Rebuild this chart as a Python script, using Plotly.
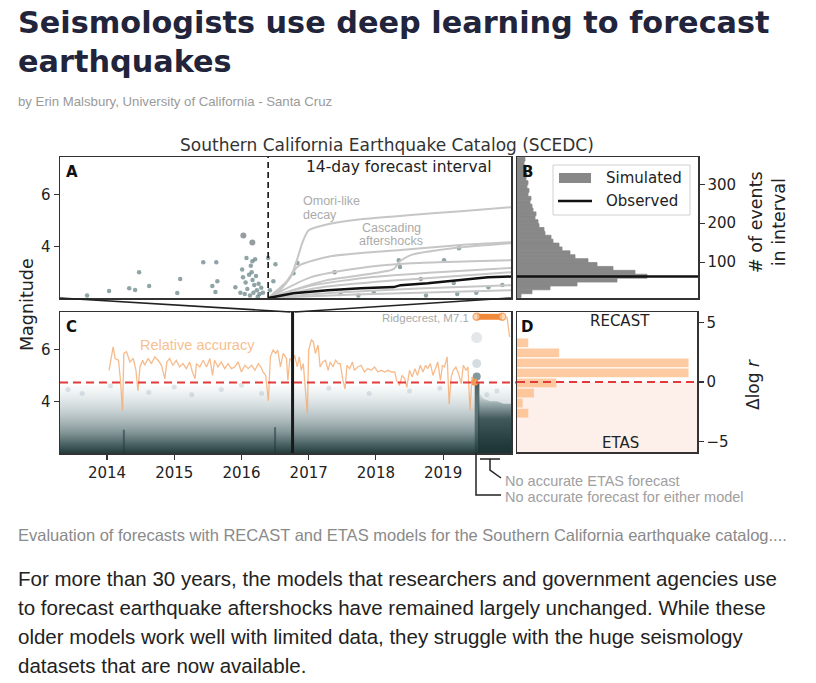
import plotly.graph_objects as go

W, H = 816, 683

# ---------------- DATA ----------------
# Panel A: catalogue events around the forecast start (days from start, magnitude)
A_DAYS = [-10.44, -9.17, -8.01, -7.67, -7.44, -6.86, -5.24, -5.07, -3.74, -3.22,
          -3.04, -2.99, -2.93, -1.89, -1.60, -1.50, -1.45, -1.35, -1.30, -1.25,
          -1.20, -1.10, -1.05, -1.00, -0.95, -0.91, -0.90, -0.85, -0.80, -0.75,
          -0.70, -0.65, -0.60, -0.55, -0.50, -0.40, -0.30, 0.00, 0.10, 0.30,
          0.42, 1.46, 1.69, 3.83, 4.18, 5.20, 6.09, 7.53, 7.60, 8.80,
          9.10, 10.14, 10.70, 10.90, 11.00, 12.00, 12.70, 13.50]
A_MAGS = [2.10, 2.27, 2.38, 2.31, 3.00, 2.46, 2.19, 2.73, 3.38, 2.46,
          2.23, 3.38, 2.65, 2.42, 2.20, 3.10, 2.80, 2.15, 2.60, 3.55,
          2.35, 2.90, 2.10, 3.25, 3.00, 3.42, 2.70, 2.20, 2.50, 3.50,
          2.85, 2.30, 2.05, 2.55, 2.15, 2.40, 2.20, 3.55, 2.30, 2.65,
          3.30, 2.96, 3.35, 3.00, 2.15, 2.10, 2.23, 3.46, 3.20, 2.73,
          2.10, 3.46, 2.58, 2.15, 3.92, 2.20, 2.42, 2.50]
A_BIG_DAYS = [-1.43, -0.91]
A_BIG_MAGS = [4.42, 4.15]

# Panel A: simulated cumulative event counts in the 14-day interval
SIM_DAYS = [
    [0, 0.6, 1.29, 1.69, 1.98, 2.33, 3.2, 5.33, 8.22, 11.11, 14.0],
    [0, 1.04, 1.73, 3.6, 7.64, 11.1, 14.0],
    [0, 3.43, 7.24, 7.53, 8.22, 11.1, 14.0],
    [0, 2.44, 5.33, 8.22, 14.0],
    [0, 2.5, 6.0, 10.0, 14.0],
    [0, 3.0, 7.0, 10.5, 14.0],
    [0, 4.0, 9.0, 14.0],
    [0, 5.0, 14.0],
]
SIM_COUNTS = [
    [8, 25, 61, 110, 151, 182, 195, 210, 221, 231, 241],
    [8, 49, 90, 115, 131, 144, 151],
    [8, 54, 82, 100, 118, 138, 149],
    [8, 61, 85, 97, 105],
    [8, 40, 62, 75, 85],
    [8, 35, 52, 63, 74],
    [8, 22, 33, 41],
    [8, 17, 28],
]
OBS_DAYS = [0, 1.46, 3.43, 5.33, 7.24, 7.64, 9.2, 11.1, 12.67, 14.0]
OBS_COUNTS = [8, 20, 28, 33, 36, 41, 46, 54, 61, 63]
OBS_TOTAL = 63

# Panel B: histogram of simulated counts (bin centre, relative frequency)
B_CENTERS = [14, 24, 34, 44, 54, 64, 74, 84, 94, 104, 114, 124, 134, 144, 154, 164, 174, 184,
             194, 204, 214, 224, 234, 244, 254, 264, 274, 284, 294, 304, 314, 324, 334, 344, 354, 364]
B_FREQ = [4, 15, 33, 60, 100, 130, 118, 96, 80, 71, 58, 53, 45, 42, 36, 34, 28, 27,
          22, 21, 18, 19, 16, 15, 13, 14, 11, 12, 10, 11, 9, 10, 8, 9, 7, 8]

# Panel C: relative accuracy (delta log r) per forecast interval
ORANGE_YEARS = [2014.03, 2014.09, 2014.12, 2014.17, 2014.20, 2014.23, 2014.25, 2014.29, 2014.34, 2014.39,
                2014.43, 2014.46, 2014.49, 2014.53, 2014.56, 2014.61, 2014.66, 2014.71, 2014.76, 2014.81,
                2014.86, 2014.89, 2014.93, 2014.98, 2015.03, 2015.08, 2015.13, 2015.18, 2015.23, 2015.27,
                2015.31, 2015.33, 2015.38, 2015.43, 2015.48, 2015.53, 2015.57, 2015.60, 2015.65, 2015.70,
                2015.75, 2015.80, 2015.85, 2015.90, 2015.95, 2016.00, 2016.05, 2016.10, 2016.15, 2016.20,
                2016.25, 2016.29, 2016.32, 2016.36, 2016.40, 2016.43, 2016.47, 2016.51, 2016.54, 2016.58,
                2016.62, 2016.67, 2016.69, 2016.72, 2016.76, 2016.79, 2016.83, 2016.86, 2016.89, 2016.92,
                2016.96, 2016.98, 2017.00, 2017.04, 2017.07, 2017.10, 2017.14, 2017.17, 2017.21, 2017.25,
                2017.29, 2017.32, 2017.36, 2017.40, 2017.44, 2017.47, 2017.51, 2017.54, 2017.57, 2017.61,
                2017.65, 2017.68, 2017.73, 2017.78, 2017.83, 2017.88, 2017.93, 2017.98, 2018.03, 2018.08,
                2018.13, 2018.18, 2018.23, 2018.28, 2018.31, 2018.35, 2018.39, 2018.43, 2018.46, 2018.50,
                2018.54, 2018.58, 2018.62, 2018.66, 2018.70, 2018.74, 2018.77, 2018.81, 2018.85, 2018.89,
                2018.92, 2018.96, 2018.99, 2019.02, 2019.06, 2019.09, 2019.12, 2019.15, 2019.19, 2019.23,
                2019.27, 2019.30, 2019.34, 2019.37, 2019.40, 2019.43, 2019.47]
ORANGE_DLOGR = [1.02, 2.99, 2.01, 1.86, 0.17, -2.37, 2.43, 2.57, 1.72, 2.01,
                1.02, -0.68, 1.30, 1.86, 1.44, 2.01, 1.58, 2.15, 1.86, 1.44,
                0.31, 1.72, 2.01, 1.44, 1.86, 1.30, 1.58, 1.16, 1.72, 0.88,
                0.31, 1.58, 1.30, 1.86, 1.30, 2.01, 0.59, 1.86, 1.30, 1.72,
                1.16, 1.58, 1.16, 1.30, 1.72, 0.88, 1.44, 1.16, 1.44, 1.02,
                1.58, 1.30, 0.88, 0.59, -1.53, 2.15, 2.71, 2.43, 2.71, 1.30,
                2.43, 2.01, 0.17, 2.01, 1.72, 2.29, 1.30, 2.15, 1.02, 1.58,
                -1.24, -2.66, 2.71, 3.56, 3.42, 2.43, 3.14, 1.30, 1.72, 1.86,
                1.02, 1.72, 1.30, 1.86, 1.58, 1.58, 0.17, -0.54, 1.44, 1.16,
                1.72, 1.02, 1.30, 1.44, 0.88, 1.16, 1.02, 1.30, 0.88, 1.02,
                0.88, 1.02, 0.88, 0.88, 0.17, -0.25, 0.59, 0.31, -0.40, 1.02,
                0.45, 1.16, 0.59, 1.44, 0.88, 1.44, 1.16, 1.58, 0.59, 1.30,
                1.72, 0.17, 1.44, 1.30, 2.15, -1.81, 0.45, 1.02, 1.30, 0.73,
                -0.11, 1.44, 1.02, 1.30, -2.37, 0.45, 0.03]
# Ridgecrest: off-scale relative accuracy
RIDGE_YEARS = [2019.50, 2019.60, 2019.70, 2019.80, 2019.88]
RIDGE_DLOGR = [5.5, 5.5, 5.5, 5.5, 5.5]
RIDGE_TAIL_YEARS = [2019.95, 2019.99]
RIDGE_TAIL_DLOGR = [5.5, 3.8]
RIDGE_DOT_YEAR = [2019.47]
RIDGE_DOT_DLOGR = [0.03]

# Panel C: catalogue cloud (upper envelope of the seismicity, magnitude)
CLOUD_YEARS = [2013.30, 2013.6, 2014.0, 2014.4, 2014.8, 2015.2, 2015.6, 2016.0, 2016.4,
               2016.8, 2017.2, 2017.6, 2018.0, 2018.4, 2018.8, 2019.2, 2019.48, 2020.01]
CLOUD_TOP = [4.7, 4.8, 4.7, 4.8, 4.6, 4.7, 4.8, 4.7, 4.6, 4.8, 4.7, 4.6, 4.7, 4.6, 4.7, 4.8, 4.7, 4.7]
AFTER_YEARS = [2019.52, 2019.60, 2019.70, 2019.80, 2019.90, 2020.01]
AFTER_TOP = [4.4, 4.1, 4.0, 4.0, 3.9, 3.9]
SPIKE_YEARS = [2014.25, 2016.50, 2019.505]
SPIKE_TOP = [2.9, 3.0, 4.7]
OUTLIER_YEARS = [2013.42, 2013.63, 2014.05, 2014.62, 2015.0, 2015.26, 2015.7, 2016.0, 2016.3,
                 2017.3, 2017.9, 2018.5, 2018.95, 2019.8, 2019.65]
OUTLIER_MAGS = [4.45, 4.3, 4.6, 4.35, 4.55, 4.25, 4.45, 4.62, 4.3, 4.5, 4.3, 4.4, 4.5, 4.4, 4.25]
RC_YEARS = [2019.50, 2019.50, 2019.50]
RC_MAGS = [6.46, 5.46, 4.96]
ZOOM_DATE = 2016.76

# Panel D: histogram of delta log r
D_CENTERS = [3.30, 2.46, 1.61, 0.76, -0.08, -0.93, -1.78, -2.63]
D_COUNTS = [4, 15, 61, 61, 14, 6, 2, 4]

YEAR_TICKS = [2014, 2015, 2016, 2017, 2018, 2019]

BODY = ["For more than 30 years, the models that researchers and government agencies use",
        "to forecast earthquake aftershocks have remained largely unchanged. While these",
        "older models work well with limited data, they struggle with the huge seismology",
        "datasets that are now available."]

# ---------------- LAYOUT HELPERS ----------------
def xd(a, b):
    return [a / W, b / W]


def yd(top, bottom):
    return [1 - bottom / H, 1 - top / H]


def PX(x):
    return x / W


def PY(y):
    return 1 - y / H


A_X, A_Y = (60, 511), (157, 298)
B_X = (517, 698)
C_X, C_Y = (60, 511), (312, 453)
D_X, D_Y = (517, 697), (312, 452)

A_XR = [-12, 14]
MAG_R = [2.0, 7.45]
CNT_R = [8, 370]
YR_R = [2013.3, 2020.01]
DL_R = [-5.9, 5.9]
B_XR = [0, 181]
D_XR = [0, 64]

TICKFONT = dict(family="DejaVu Sans", size=15, color="#222")
BOX = dict(showline=True, mirror=True, linecolor="#333", linewidth=1.5, showgrid=False,
           zeroline=False, ticks="outside", ticklen=5, tickwidth=1.2, tickcolor="#333",
           tickfont=TICKFONT, fixedrange=True)

fig = go.Figure()

# ---- Panel A
fig.add_trace(go.Scatter(x=A_DAYS, y=A_MAGS, mode="markers", xaxis="x", yaxis="y",
                         marker=dict(size=4.5, color="rgba(95,125,130,0.7)", line_width=0),
                         hoverinfo="skip"))
fig.add_trace(go.Scatter(x=A_BIG_DAYS, y=A_BIG_MAGS, mode="markers", xaxis="x", yaxis="y",
                         marker=dict(size=6, color="rgba(105,115,120,0.7)", line_width=0),
                         hoverinfo="skip"))
for d, c in zip(SIM_DAYS, SIM_COUNTS):
    fig.add_trace(go.Scatter(x=d, y=c, mode="lines", xaxis="x", yaxis="y5",
                             line=dict(color="#c6c6c6", width=2, shape="spline", smoothing=0.6),
                             hoverinfo="skip"))
fig.add_trace(go.Scatter(x=OBS_DAYS, y=OBS_COUNTS, mode="lines", xaxis="x", yaxis="y5",
                         line=dict(color="#111", width=2.5), hoverinfo="skip"))

# ---- Panel B
fig.add_trace(go.Bar(y=B_CENTERS, x=B_FREQ, orientation="h", width=10, xaxis="x2", yaxis="y2",
                     marker=dict(color="#888888", line=dict(color="#888888", width=0.8)),
                     hoverinfo="skip"))
fig.add_trace(go.Scatter(x=B_XR, y=[OBS_TOTAL, OBS_TOTAL], mode="lines", xaxis="x2", yaxis="y2",
                         line=dict(color="#111", width=2.5), hoverinfo="skip"))

# ---- Panel C: seismicity cloud
fig.add_trace(go.Scatter(x=CLOUD_YEARS, y=CLOUD_TOP, mode="lines", xaxis="x3", yaxis="y3",
                         line=dict(width=0), fill="tozeroy",
                         fillgradient=dict(type="vertical", start=2.0, stop=4.8,
                                           colorscale=[[0, "rgba(32,55,56,0.97)"],
                                                       [0.12, "rgba(48,76,78,0.88)"],
                                                       [0.3, "rgba(80,106,108,0.68)"],
                                                       [0.55, "rgba(125,148,152,0.48)"],
                                                       [0.8, "rgba(170,188,194,0.25)"],
                                                       [1, "rgba(210,220,225,0)"]]),
                         hoverinfo="skip"))
fig.add_trace(go.Scatter(x=AFTER_YEARS, y=AFTER_TOP, mode="lines", xaxis="x3", yaxis="y3",
                         line=dict(width=0), fill="tozeroy",
                         fillgradient=dict(type="vertical", start=2.0, stop=4.4,
                                           colorscale=[[0, "rgba(28,50,52,0.92)"],
                                                       [0.55, "rgba(38,64,66,0.8)"],
                                                       [0.8, "rgba(65,95,98,0.4)"],
                                                       [1, "rgba(100,125,128,0)"]]),
                         hoverinfo="skip"))
fig.add_trace(go.Bar(x=SPIKE_YEARS, y=[t - MAG_R[0] for t in SPIKE_TOP], base=MAG_R[0],
                     width=[0.03, 0.03, 0.07],
                     xaxis="x3", yaxis="y3", marker=dict(color="rgba(32,56,58,0.85)", line_width=0),
                     hoverinfo="skip"))
fig.add_trace(go.Scatter(x=OUTLIER_YEARS, y=OUTLIER_MAGS, mode="markers", xaxis="x3", yaxis="y3",
                         marker=dict(size=5, color="rgba(140,165,178,0.28)", line_width=0),
                         hoverinfo="skip"))
fig.add_trace(go.Scatter(x=RC_YEARS, y=RC_MAGS, mode="markers", xaxis="x3", yaxis="y3",
                         marker=dict(size=[11, 9, 8],
                                     color=["rgba(205,213,218,0.8)", "rgba(178,196,203,0.8)",
                                            "rgba(60,95,100,0.9)"], line_width=0),
                         hoverinfo="skip"))

# ---- Panel C: relative accuracy
fig.add_trace(go.Scatter(x=ORANGE_YEARS, y=ORANGE_DLOGR, mode="lines", xaxis="x3", yaxis="y6",
                         line=dict(color="rgba(245,170,110,0.8)", width=1.3), hoverinfo="skip"))
fig.add_trace(go.Scatter(x=RIDGE_YEARS, y=RIDGE_DLOGR, mode="lines+markers", xaxis="x3", yaxis="y6",
                         line=dict(color="#f08a3a", width=6),
                         marker=dict(size=[7, 0, 0, 0, 7], color="#f8d0aa",
                                     line=dict(color="#f08a3a", width=1.5)),
                         hoverinfo="skip"))
fig.add_trace(go.Scatter(x=RIDGE_TAIL_YEARS, y=RIDGE_TAIL_DLOGR, mode="lines", xaxis="x3", yaxis="y6",
                         line=dict(color="rgba(245,170,110,0.8)", width=1.3), hoverinfo="skip"))
fig.add_trace(go.Scatter(x=RIDGE_DOT_YEAR, y=RIDGE_DOT_DLOGR, mode="markers", xaxis="x3", yaxis="y6",
                         marker=dict(size=7, color="#f09a55"), hoverinfo="skip"))

# ---- Panel D
fig.add_trace(go.Bar(y=D_CENTERS, x=D_COUNTS, orientation="h", width=0.74, xaxis="x4", yaxis="y4",
                     marker=dict(color="rgba(252,182,125,0.72)", line_width=0), hoverinfo="skip"))

fig.update_traces(showlegend=False)

# ---------------- AXES ----------------
lay = dict(
    xaxis=dict(BOX, domain=xd(*A_X), range=A_XR, anchor="y", showticklabels=False, ticks=""),
    yaxis=dict(BOX, domain=yd(*A_Y), range=MAG_R, anchor="x", tickvals=[4, 6]),
    yaxis5=dict(range=CNT_R, overlaying="y", anchor="x", visible=False, fixedrange=True),
    xaxis2=dict(BOX, domain=xd(*B_X), range=B_XR, anchor="y2", showticklabels=False, ticks=""),
    yaxis2=dict(BOX, domain=yd(*A_Y), range=CNT_R, anchor="x2", side="right",
                tickvals=[100, 200, 300]),
    xaxis3=dict(BOX, domain=xd(*C_X), range=YR_R, anchor="y3", tickvals=YEAR_TICKS,
                ticktext=[str(t) for t in YEAR_TICKS]),
    yaxis3=dict(BOX, domain=yd(*C_Y), range=MAG_R, anchor="x3", tickvals=[4, 6]),
    yaxis6=dict(range=DL_R, overlaying="y3", anchor="x3", visible=False, fixedrange=True),
    xaxis4=dict(BOX, domain=xd(*D_X), range=D_XR, anchor="y4", showticklabels=False, ticks=""),
    yaxis4=dict(BOX, domain=yd(*D_Y), range=DL_R, anchor="x4", side="right",
                tickvals=[-5, 0, 5], ticktext=["\u22125", "0", "5"]),
)

# ---------------- SHAPES ----------------
zoom_frac = (ZOOM_DATE - YR_R[0]) / (YR_R[1] - YR_R[0])
zoom_px = C_X[0] + zoom_frac * (C_X[1] - C_X[0])
shapes = [
    dict(type="rect", xref="x4 domain", yref="y4", x0=0, x1=1, y0=DL_R[0], y1=0,
         fillcolor="#fdf0ea", line_width=0, layer="below"),
    dict(type="line", xref="x", yref="y domain", x0=0, x1=0, y0=0, y1=1,
         line=dict(color="#111", width=1.6, dash="6px,4px")),
    dict(type="line", xref="x3", yref="y3 domain", x0=ZOOM_DATE, x1=ZOOM_DATE, y0=0, y1=1,
         line=dict(color="#1a1a1a", width=3)),
    dict(type="line", xref="x3 domain", yref="y6", x0=0, x1=1.012, y0=0, y1=0,
         line=dict(color="#e23a3a", width=2, dash="8px,5px")),
    dict(type="line", xref="x4 domain", yref="y4", x0=0, x1=1, y0=0, y1=0,
         line=dict(color="#e23a3a", width=2, dash="8px,5px")),
    dict(type="line", xref="paper", yref="paper", x0=PX(A_X[0]), y0=PY(A_Y[1]),
         x1=PX(zoom_px - 2), y1=PY(C_Y[0]), line=dict(color="#222", width=1.6)),
    dict(type="line", xref="paper", yref="paper", x0=PX(A_X[1]), y0=PY(A_Y[1]),
         x1=PX(zoom_px + 2), y1=PY(C_Y[0]), line=dict(color="#222", width=1.6)),
    dict(type="rect", xref="paper", yref="paper", x0=PX(553), x1=PX(690), y0=PY(215), y1=PY(165),
         fillcolor="rgba(255,255,255,0.9)", line=dict(color="#d0d0d0", width=1)),
    dict(type="rect", xref="paper", yref="paper", x0=PX(559), x1=PX(591), y0=PY(183), y1=PY(173),
         fillcolor="#888888", line_width=0),
    dict(type="line", xref="paper", yref="paper", x0=PX(558), x1=PX(592), y0=PY(201), y1=PY(201),
         line=dict(color="#111", width=2.5)),
    dict(type="line", xref="paper", yref="paper", x0=PX(480), x1=PX(500), y0=PY(459), y1=PY(459),
         line=dict(color="#222", width=1.5)),
    dict(type="path", xref="paper", yref="paper",
         path=f"M {PX(490)},{PY(459)} L {PX(490)},{PY(470)} L {PX(501)},{PY(478)}",
         line=dict(color="#222", width=1.5)),
    dict(type="path", xref="paper", yref="paper",
         path=f"M {PX(476)},{PY(453)} L {PX(476)},{PY(495)} L {PX(501)},{PY(495)}",
         line=dict(color="#222", width=1.5)),
]

# ---------------- TEXT ----------------
def ann(x, y, text, size, color="#222", family="Liberation Sans", xanchor="left",
        yanchor="middle", angle=0):
    return dict(x=PX(x), y=PY(y), xref="paper", yref="paper", text=text, showarrow=False,
                xanchor=xanchor, yanchor=yanchor, textangle=angle,
                font=dict(family=family, size=size, color=color))


annotations = [
    ann(16, 23, "<b>Seismologists use deep learning to forecast</b>", 30.3, "#21243a", "DejaVu Sans"),
    ann(16, 61, "<b>earthquakes</b>", 30.3, "#21243a", "DejaVu Sans"),
    ann(16, 102, "by Erin Malsbury, University of California - Santa Cruz", 13.2, "#9a9a9a"),
    ann(387, 145, "Southern California Earthquake Catalog (SCEDC)", 17, "#333", "DejaVu Sans",
        xanchor="center"),
    ann(398, 167, "14-day forecast interval", 15.5, "#222", "DejaVu Sans", xanchor="center"),
    ann(64, 172, "<b>A</b>", 15, "#111", "DejaVu Sans"),
    ann(520, 172, "<b>B</b>", 15, "#111", "DejaVu Sans"),
    ann(64, 327, "<b>C</b>", 15, "#111", "DejaVu Sans"),
    ann(519, 327, "<b>D</b>", 15, "#111", "DejaVu Sans"),
    ann(301, 201, "Omori-like", 12.5, "#ababab"),
    ann(301, 215, "decay", 12.5, "#ababab"),
    ann(391, 228, "Cascading", 12.5, "#ababab", xanchor="center"),
    ann(391, 241, "aftershocks", 12.5, "#ababab", xanchor="center"),
    ann(604, 178, "Simulated", 15, "#222", "DejaVu Sans"),
    ann(604, 201, "Observed", 15, "#222", "DejaVu Sans"),
    ann(768, 222, "# of events<br>in interval", 17.5, "#222", "DejaVu Sans", xanchor="center",
        angle=-90),
    ann(27, 305, "Magnitude", 17.5, "#222", "DejaVu Sans", xanchor="center", angle=-90),
    ann(753, 385, "\u0394log <i>r</i>", 17, "#222", "DejaVu Sans", xanchor="center", angle=-90),
    ann(197, 345, "Relative accuracy", 14.5, "#f6c190", xanchor="center"),
    ann(471, 318, "Ridgecrest, M7.1", 11.5, "#aaaaaa", xanchor="right"),
    ann(620, 321, "RECAST", 15, "#222", "DejaVu Sans", xanchor="center"),
    ann(620, 443, "ETAS", 15, "#222", "DejaVu Sans", xanchor="center"),
    ann(503, 481, "No accurate ETAS forecast", 14.5, "#a0a0a0"),
    ann(503, 497, "No accurate forecast for either model", 14.5, "#a0a0a0"),
    ann(16, 535, "Evaluation of forecasts with RECAST and ETAS models for the Southern California "
                 "earthquake catalog....", 16.5, "#8a8a8a"),
]
for i, line in enumerate(BODY):
    annotations.append(ann(16, 578 + i * 29.2, line, 20.5, "#222"))

fig.update_layout(
    width=W, height=H, margin=dict(l=0, r=0, t=0, b=0),
    paper_bgcolor="white", plot_bgcolor="rgba(0,0,0,0)",
    showlegend=False, barmode="overlay",
    shapes=shapes, annotations=annotations, **lay,
)

fig.write_html("out.html", config={"displayModeBar": False, "staticPlot": True},
               post_script="document.body.style.margin='0px';")
